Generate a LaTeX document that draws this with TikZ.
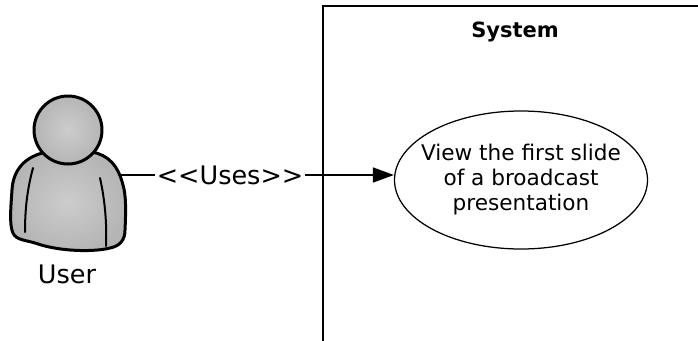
\documentclass[tikz,border=0pt]{standalone}
\usepackage{fontspec}
\setmainfont{DejaVu Sans}
\usetikzlibrary{shapes.geometric}
\usetikzlibrary{arrows.meta}

\begin{document}
\begin{tikzpicture}
            [every node/.style={inner sep=0pt},
             big/.style={font=\fontsize{25.5}{30}\selectfont},
             small/.style={font=\fontsize{21.6}{25}\selectfont},
             outline/.style={line width=3pt, draw=black, line join=round, line cap=round},
             skin/.style={inner color=black!20, outer color=black!29}]
                \useasboundingbox (0pt, 0pt) rectangle (698pt, -340pt);
                \node (system) [rectangle, minimum width=420pt, minimum height=380pt, line width=1.5pt, draw=black, anchor=north west] at (322pt, -5pt) {};
                \node (title) [font=\fontsize{21}{25}\selectfont, anchor=base] at (515pt, -37pt) {\textbf{System}};
                \node (view) [ellipse, minimum width=253pt, minimum height=138pt, inner xsep=-14pt, line width=1.25pt, draw=black, fill=white, align=center, small] at (521pt, -180pt) {View the first slide\\of a broadcast\\presentation};
                % actor
                \shade [skin, outline] (47pt, -152pt) .. controls (25pt, -156pt) and (13pt, -170pt) .. (12pt, -190pt)
                    .. controls (11pt, -205pt) and (9pt, -225pt) .. (13pt, -233pt)
                    .. controls (16pt, -240pt) and (25pt, -240pt) .. (35pt, -243pt)
                    .. controls (60pt, -252pt) and (95pt, -252pt) .. (110pt, -248pt)
                    .. controls (120pt, -246pt) and (125pt, -240pt) .. (125pt, -230pt)
                    .. controls (126pt, -210pt) and (126pt, -195pt) .. (123pt, -185pt)
                    .. controls (118pt, -165pt) and (108pt, -155pt) .. (92pt, -152pt) -- cycle;
                \draw [line width=2pt, line cap=round] (33pt, -168pt) .. controls (27pt, -190pt) and (25pt, -210pt) .. (25pt, -232pt);
                \draw [line width=2pt, line cap=round] (100pt, -178pt) .. controls (105pt, -200pt) and (107pt, -225pt) .. (106pt, -246pt);
                \shade [skin, outline] (68pt, -130pt) circle (34pt);
                \coordinate (user) at (119pt, -175pt);
                \node (name) [big, anchor=base] at (67pt, -283pt) {User};
                \draw [line width=1.5pt, -{Triangle[length=21pt, width=15pt]}, color=black] (user) -- node[pos=0.404, big, fill=white, inner xsep=2pt, inner ysep=1pt] (uses) {<\kern0pt<Uses>\kern0pt>} (user -| view.west);
            \end{tikzpicture}
\end{document}
